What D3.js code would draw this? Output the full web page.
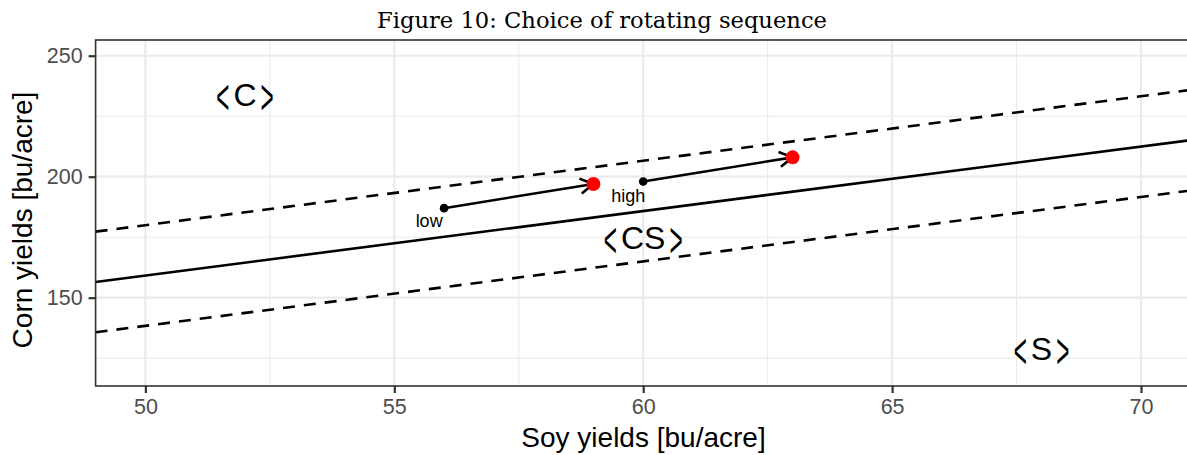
<!DOCTYPE html>
<html>
<head>
<meta charset="utf-8">
<script src="https://cdn.jsdelivr.net/npm/d3@7"></script>
<style>
  body { margin: 0; background: #fff; }
  svg { display: block; }
</style>
</head>
<body>
<div id="chart"></div>
<script>
// data
const xTicks = [50, 55, 60, 65, 70];
const yTicks = [150, 200, 250];
const xMinor = [52.5, 57.5, 62.5, 67.5];
const yMinor = [125, 175, 225];

// boundary line (soy, corn) at the panel edges
const boundary = [{ x: 49, y: 156.5 }, { x: 71, y: 215.1 }];
const bandOffset = 20.8;

const arrows = [
  { x0: 56, y0: 187, x1: 59, y1: 197 },
  { x0: 60, y0: 198, x1: 63, y1: 208 }
];
const pointLabels = [
  { text: "low", x: 55.7, y: 181.5 },
  { text: "high", x: 59.7, y: 192.2 }
];
const regionLabels = [
  { text: "C", x: 52, y: 234 },
  { text: "CS", x: 60, y: 175 },
  { text: "S", x: 68, y: 129 }
];

const width = 1187;
const height = 455;
const sans = "'Liberation Sans', Arial, sans-serif";

const svg = d3.select("#chart").append("svg")
  .attr("width", width)
  .attr("height", height);

const x = d3.scaleLinear().domain([49, 71]).range([95.6, 1190.8]);
const y = d3.scaleLinear().domain([113.5, 256.5]).range([386, 40]);

const pLeft = x.range()[0], pRight = x.range()[1];
const pTop = y.range()[1], pBottom = y.range()[0];

svg.append("defs").append("clipPath").attr("id", "panel")
  .append("rect")
  .attr("x", pLeft).attr("y", pTop)
  .attr("width", pRight - pLeft).attr("height", pBottom - pTop);

const g = svg.append("g");

// grid
g.selectAll(".vminor").data(xMinor).enter().append("line")
  .attr("x1", d => x(d)).attr("x2", d => x(d))
  .attr("y1", pTop).attr("y2", pBottom)
  .attr("stroke", "#ebebeb").attr("stroke-width", 1.1);
g.selectAll(".hminor").data(yMinor).enter().append("line")
  .attr("x1", pLeft).attr("x2", pRight)
  .attr("y1", d => y(d)).attr("y2", d => y(d))
  .attr("stroke", "#ebebeb").attr("stroke-width", 1.1);
g.selectAll(".vmajor").data(xTicks).enter().append("line")
  .attr("x1", d => x(d)).attr("x2", d => x(d))
  .attr("y1", pTop).attr("y2", pBottom)
  .attr("stroke", "#ebebeb").attr("stroke-width", 2.2);
g.selectAll(".hmajor").data(yTicks).enter().append("line")
  .attr("x1", pLeft).attr("x2", pRight)
  .attr("y1", d => y(d)).attr("y2", d => y(d))
  .attr("stroke", "#ebebeb").attr("stroke-width", 2.2);

const plot = svg.append("g").attr("clip-path", "url(#panel)");

const line = d3.line().x(d => x(d.x)).y(d => y(d.y));

plot.append("path")
  .datum(boundary)
  .attr("d", line)
  .attr("fill", "none").attr("stroke", "#000").attr("stroke-width", 2.6);

[bandOffset, -bandOffset].forEach(off => {
  plot.append("path")
    .datum(boundary.map(p => ({ x: p.x, y: p.y + off })))
    .attr("d", line)
    .attr("fill", "none").attr("stroke", "#000").attr("stroke-width", 2.6)
    .attr("stroke-dasharray", "12,9");
});

// arrows
arrows.forEach(a => {
  const px0 = x(a.x0), py0 = y(a.y0), px1 = x(a.x1), py1 = y(a.y1);
  const ang = Math.atan2(py1 - py0, px1 - px0);
  const len = 15, spread = Math.PI / 6;
  plot.append("line")
    .attr("x1", px0).attr("y1", py0).attr("x2", px1).attr("y2", py1)
    .attr("stroke", "#000").attr("stroke-width", 2.6);
  plot.append("path")
    .attr("d", `M${px1 - len * Math.cos(ang - spread)},${py1 - len * Math.sin(ang - spread)}L${px1},${py1}L${px1 - len * Math.cos(ang + spread)},${py1 - len * Math.sin(ang + spread)}`)
    .attr("fill", "none").attr("stroke", "#000").attr("stroke-width", 2.6);
});

plot.selectAll(".start").data(arrows).enter().append("circle")
  .attr("cx", d => x(d.x0)).attr("cy", d => y(d.y0)).attr("r", 4.3)
  .attr("fill", "#000");
plot.selectAll(".end").data(arrows).enter().append("circle")
  .attr("cx", d => x(d.x1)).attr("cy", d => y(d.y1)).attr("r", 7)
  .attr("fill", "#ff0000");

plot.selectAll(".plabel").data(pointLabels).enter().append("text")
  .attr("x", d => x(d.x)).attr("y", d => y(d.y))
  .attr("text-anchor", "middle").attr("dominant-baseline", "central")
  .style("font-family", sans)
  .style("font-size", "18px")
  .text(d => d.text);

// region labels: <X> with narrow chevrons as tall as the capitals
regionLabels.forEach(d => {
  const cx = x(d.x), cy = y(d.y);
  const lab = plot.append("text")
    .attr("x", cx).attr("y", cy + 11.4)
    .attr("text-anchor", "middle")
    .style("font-family", sans).style("font-size", "32px")
    .text(d.text);
  const w = lab.node().getComputedTextLength();
  plot.append("text")
    .attr("transform", `translate(${cx - w / 2 - 4},${cy + 19.5}) scale(0.45,1)`)
    .attr("text-anchor", "end")
    .style("font-family", sans).style("font-size", "50px")
    .text("<");
  plot.append("text")
    .attr("transform", `translate(${cx + w / 2 + 4},${cy + 19.5}) scale(0.45,1)`)
    .attr("text-anchor", "start")
    .style("font-family", sans).style("font-size", "50px")
    .text(">");
});

// panel border
svg.append("rect")
  .attr("x", pLeft).attr("y", pTop)
  .attr("width", pRight - pLeft).attr("height", pBottom - pTop)
  .attr("fill", "none").attr("stroke", "#333333").attr("stroke-width", 1.6);

// axes
const xAxis = svg.append("g")
  .attr("transform", `translate(0,${pBottom})`)
  .call(d3.axisBottom(x).tickValues(xTicks).tickSize(7).tickPadding(6).tickFormat(d3.format("d")));
const yAxis = svg.append("g")
  .attr("transform", `translate(${pLeft},0)`)
  .call(d3.axisLeft(y).tickValues(yTicks).tickSize(7).tickPadding(6).tickFormat(d3.format("d")));

[xAxis, yAxis].forEach(ax => {
  ax.select(".domain").remove();
  ax.selectAll(".tick line").attr("stroke", "#333333").attr("stroke-width", 2.2);
  ax.selectAll(".tick text")
    .attr("fill", "#4d4d4d")
    .style("font-family", sans)
    .style("font-size", "21.5px");
});

svg.append("text")
  .attr("x", 643.5).attr("y", 447)
  .attr("text-anchor", "middle")
  .style("font-family", sans)
  .style("font-size", "28px")
  .text("Soy yields [bu/acre]");

svg.append("text")
  .attr("transform", "translate(32,220) rotate(-90)")
  .attr("text-anchor", "middle")
  .style("font-family", sans)
  .style("font-size", "28px")
  .text("Corn yields [bu/acre]");

svg.append("text")
  .attr("x", 602).attr("y", 28)
  .attr("text-anchor", "middle")
  .attr("textLength", 450)
  .attr("lengthAdjust", "spacingAndGlyphs")
  .style("font-family", "'DejaVu Serif', serif")
  .style("font-size", "22px")
  .text("Figure 10: Choice of rotating sequence");
</script>
</body>
</html>
